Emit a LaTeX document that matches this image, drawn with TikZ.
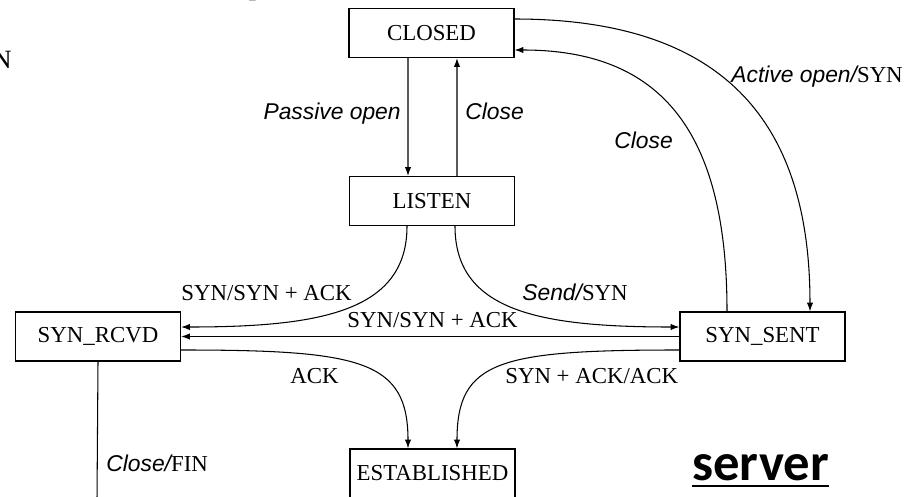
\documentclass[tikz,border=0pt]{standalone}
\usepackage{fontspec}
\setmainfont{Liberation Serif}
\newfontfamily\sansit{Liberation Sans}
\newfontfamily\calib{Carlito}
\usetikzlibrary{arrows.meta}

\begin{document}
\begin{tikzpicture}[x=0.02cm,y=-0.02cm,
	state/.style={draw,line width=0.7pt,minimum width=3.3cm,minimum height=0.98cm,inner sep=0pt,font=\fontsize{13}{15}\selectfont},
	arr/.style={line width=0.6pt,-{Latex[length=5pt,width=3.6pt]}},
	lbl/.style={inner sep=0pt,anchor=base west,font=\fontsize{13}{15}\selectfont}]
	\useasboundingbox (0,0) rectangle (920,497);

	% states
	\node[state] (closed) at (431.5,33) {CLOSED};
	\node[state] (listen) at (432,201) {LISTEN};
	\node[state] (synrcvd) at (98,336.5) {SYN\_RCVD};
	\node[state] (synsent) at (762.5,336.5) {SYN\_SENT};
	\node[state] (estab) at (432.5,473.5) {ESTABLISHED};

	% transitions
	\draw[arr] ([xshift=-0.47cm]closed.south) -- ([xshift=-0.48cm]listen.north);
	\draw[arr] ([xshift=0.5cm]listen.north) -- ([xshift=0.51cm]closed.south);
	\draw[arr] ([yshift=0.28cm]closed.east) .. controls +(207,0) and +(0,-192) .. ([xshift=0.95cm]synsent.north);
	\draw[arr] ([xshift=-0.71cm]synsent.north) .. controls +(0,-182) and +(145,0) .. ([yshift=-0.34cm]closed.east);
	\draw[arr] ([xshift=-0.5cm]listen.south) .. controls +(0,85) and +(140,0) .. ([yshift=0.19cm]synrcvd.east);
	\draw[arr] ([xshift=0.46cm]listen.south) .. controls +(0,85) and +(-140,0) .. ([yshift=0.19cm]synsent.west);
	\draw[arr] (synsent.west) -- (synrcvd.east);
	\draw[arr] ([yshift=-0.27cm]synrcvd.east) .. controls +(180,0) and +(0,-88) .. ([xshift=-0.49cm]estab.north);
	\draw[arr] ([yshift=-0.27cm]synsent.west) .. controls +(-180,0) and +(0,-88) .. ([xshift=0.49cm]estab.north);
	\coordinate (finend) at (97,500);
	\draw[line width=0.6pt] (synrcvd.south) -- (finend);

	% labels
	\node[lbl,anchor=base east] (lpassive) at (401,119) {{\sansit\itshape Passive open}};
	\node[lbl] (lclose1) at (465,119) {{\sansit\itshape Close}};
	\node[lbl] (lactive) at (731,82) {{\sansit\itshape Active open/}SYN};
	\node[lbl] (lclose2) at (614,148) {{\sansit\itshape Close}};
	\node[lbl] (lsynack1) at (181,300) {SYN/SYN + ACK};
	\node[lbl] (lsend) at (522,300) {{\sansit\itshape Send/}SYN};
	\node[lbl] (lsynack2) at (347,327) {SYN/SYN + ACK};
	\node[lbl] (lack) at (290,383) {ACK};
	\node[lbl] (lsynackack) at (505,383) {SYN + ACK/ACK};
	\node[lbl] (lfin) at (106,471) {{\sansit\itshape Close/}FIN};

	% cut-off text at the edges
	\node[lbl,anchor=base east,font=\fontsize{15}{17}\selectfont] (edgen) at (12,68) {N};
	\node[inner sep=0pt,anchor=base west,font=\calib\bfseries\fontsize{30}{34}\selectfont] (edgep) at (246,-7.5) {p};

	% server
	\node[inner sep=0pt,anchor=base west,font=\calib\bfseries\fontsize{30}{34}\selectfont] (server) at (692,480) {server};
	\draw[line width=1.6pt] ([yshift=-0.12cm]server.base west) -- ([yshift=-0.12cm]server.base east);
\end{tikzpicture}
\end{document}
